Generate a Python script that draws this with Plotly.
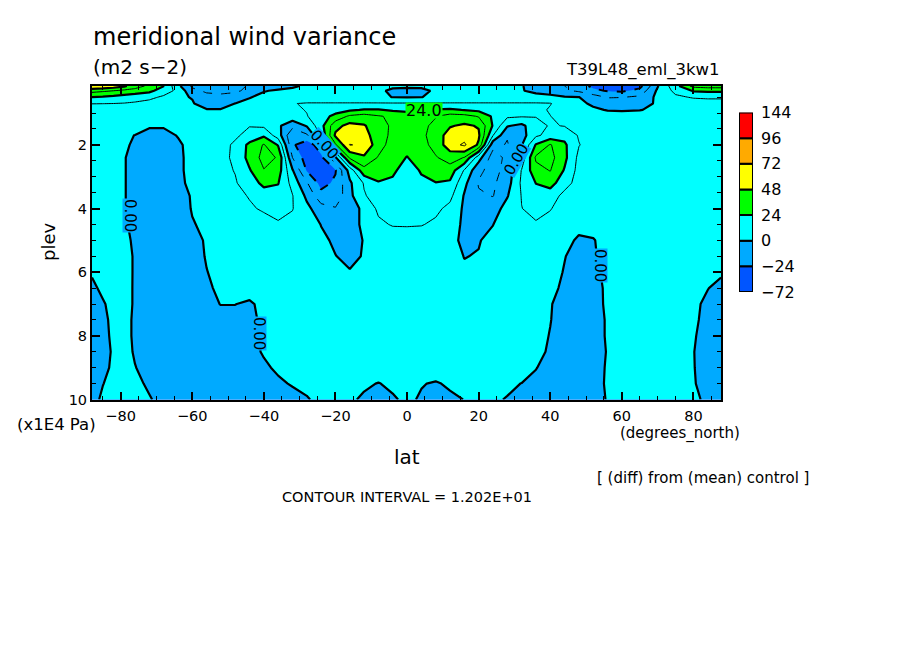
import plotly.graph_objects as go

# grid: latitude columns, pressure rows (x1E4 Pa)
LAT = [-88, -85, -82, -79, -76, -72, -68, -64, -60, -56, -52, -48, -44, -40, -36,
       -32, -28, -24, -20, -16, -12, -8, -4, 0, 4, 8, 12, 16, 20, 24,
       28, 32, 36, 40, 44, 48, 52, 56, 60, 65, 70, 75, 80, 84, 87.7]
PLEV = [0.15, 0.3, 0.5, 0.7, 0.9, 1.1, 1.4, 1.7, 2.0, 2.4, 2.8, 3.2, 3.6, 4.0, 4.5,
        5, 5.5, 6, 6.5, 7, 7.5, 8, 8.5, 9, 9.5, 10]

P015 = [60, 58, 55, 50, 42, 33, 24.5, 3, -14, -18, -18, -15, -11, -6, -3, -1, 1, 1, 1, 1, 1, 1, 2, 2, 2, 1, 1, 1, 1, 1, 0.8, 0.3, -2, -7, -12, -18, -27, -33, -33, -28, -1, 20, 40, 42, 42]
P03 = [40, 38, 36, 33, 31, 27, 18, 9, -9, -14, -15, -14, -9, -0.5, 1, 1.5, 2, 2, 2, 2, 2, 2, -2, -3, -2.5, 1.5, 2, 2, 2, 1.5, 1, 0.5, -2, -5, -10, -14, -21, -25, -26, -20, 2, 15, 25, 26, 26]
P05 = [24, 23, 21, 19, 17, 15, 10, 1, -0.3, -8, -9, -7, -0.4, 2, 3, 3, 3, 3, 3, 3, 3, 2, -0.2, -0.5, -0.2, 2, 3, 3, 3, 3, 3, 3, 3, 3, 1, 0.2, -6, -13, -12.5, -10, 3, 10, 13, 13.5, 13.5]
P07 = [12.5, 12.3, 12, 11.5, 10.5, 8, 5, 3, 0.5, -3, -3.5, 0.1, 2, 5, 7, 11.5, 13, 13, 13, 13, 13, 13, 13, 13, 13, 13, 13, 13, 13, 13, 13, 13, 13, 12.5, 7, 2, -1.5, -4, -4, -2, 0.7, 4, 7, 8, 8]
P09 = [3, 3, 3, 3, 3, 2, 1.5, 1.5, 0.7, 0.4, 0.5, 2, 4, 6, 8, 10, 12.5, 15, 18, 22, 25, 25, 22, 20, 21, 25, 26, 23.5, 21, 18, 16, 15, 15, 11, 7, 4, 1.5, -0.5, -0.7, -0.3, 1.5, 2, 2, 2, 2]
P11 = [2, 2, 2, 2, 2, 2, 2, 2, 2, 3, 4, 5, 6, 7, 7, 7, 11.5, 18, 28, 38, 41, 37, 34, 33, 34, 35.5, 41, 40, 35, 22, 14, 13, 12.5, 12.2, 8, 6, 5, 4, 3, 3, 3, 3, 2, 2, 1]
P14 = [1, 2, 2, 2, 2, 1, 1, 2, 3, 5, 7, 9, 11.5, 10, 2, -8, 1, 20, 44, 52, 49, 41, 34, 32, 34, 38, 47, 50, 47, 23, 1, -3, 8, 13, 11.5, 9, 7, 5, 4, 4, 3, 3, 3, 2, 1]
P17 = [1, 2, 2, 1, -0.1, -3, -3, 0.5, 3, 5, 7, 10, 16, 22, 6, -23, -14, 14, 50, 53, 52, 42, 33, 30, 33, 42, 53, 55, 50, 12.5, -11, -5, 10, 16, 20, 11, 7, 5, 4, 4, 4, 3, 3, 2, 1]
P20 = [1, 2, 2, 1, -1, -5, -6, -1.5, 3, 5, 8, 14, 27, 37, 23, -22, -32, -16, 34, 60.5, 58, 41, 31, 28, 32, 40, 55, 62, 46, -8, -13, -1, 25, 37, 26, 12.5, 7, 5, 4, 4, 4, 4, 3, 2, 1]
P24 = [1, 2, 2, 0.5, -3, -8, -9, -2, 3, 6, 9, 14, 28, 40, 35, -12, -30, -27, -2, 38, 46, 35, 29, 23.5, 30, 35, 41, 35.5, 5, -18, -9, 4, 38, 40, 27, 9, 6, 5, 4, 4, 4, 4, 3, 2, 1]
P28 = [1, 2, 2, 0.5, -3, -8, -9, -2, 3, 6, 9, 12.5, 23, 35.5, 30, 1, -25, -32, -25, 5, 32, 31, 26, 19, 25, 32, 31, 11, -9, -17, -7, 12.5, 32, 36.5, 23, 8, 6, 5, 4, 4, 4, 4, 3, 2, 1]
P32 = [1, 2, 2, 0.5, -3, -8, -9, -3, 3, 6, 9, 11, 18, 27, 24.5, 8, -11, -28, -22, -2, 13, 23, 22, 21, 22, 23.5, 22, 3, -13, -14, -5, 14, 24.2, 29, 16, 8, 6, 5, 4, 4, 4, 4, 3, 2, 1]
P36 = [1, 2, 2, 0.5, -3, -8, -9, -7, 1.5, 5, 8, 10, 12.5, 18, 20, 12.5, -2.5, -20, -21, -3, 11, 17, 20, 21, 20, 17, 15, -1, -10.5, -12.5, -0.8, 12.5, 20, 17, 9, 6, 5, 4, 4, 4, 4, 4, 3, 2, 1]
P40 = [1, 2, 2, 0.5, -3, -7, -8, -8, 1, 4, 7, 9, 11, 13, 15, 12.5, 3, -7, -11, -8, 4, 14, 17, 18, 17, 14.5, 9, -2, -7, -5, 4, 11.8, 15, 12.5, 8, 5, 4, 4, 4, 4, 4, 4, 3, 2, 1]
P45 = [1, 2, 2, 1, -2, -6, -7, -7, -1, 3, 6, 7, 8, 9, 11, 9, 6, -0.3, -6, -7, 3.5, 10, 12.8, 13, 12.6, 10, 5, -2, -6, -0.2, 6, 10, 11, 9, 6, 3, 3, 3, 4, 4, 4, 4, 3, 2, 1]
P50 = [1, 2, 2.5, 1.5, -1, -5, -6, -6, -3, 1, 4, 5, 6, 6, 6, 5, 4, 2, -1.5, -4, 0.5, 5, 6, 6, 6, 6, 4, -3, -0.5, 2.5, 5, 6, 6, 6, 3, -1.5, -0.5, 3, 4, 4, 4, 4, 3, 2, 1]
P55 = [1, 2, 2.5, 2, -0.6, -3, -5, -5, -3, 0.5, 3, 4, 4, 4, 4, 3, 3, 2, 0.2, -2, 0.6, 3, 4, 4, 4, 4, 3, -0.2, 0.4, 3, 4, 4, 4, 4, 0.3, -3, -1, 3, 4, 4, 4, 4, 3, 2, 1]
P60 = [0.5, 2, 2.5, 2, -0.6, -3, -4, -4, -3, -0.2, 2, 3, 3, 3, 3, 3, 3, 2, 1.5, 0.5, 1.5, 3, 3, 3, 3, 3, 2.5, 1, 1.5, 2.5, 3, 3, 3, 3, -0.5, -4, -2, 2, 3, 4, 4, 4, 3, 2, 1]
P65 = [-1, 1, 2, 2.5, -0.8, -3, -4, -4, -3.5, -1.2, 1.5, 2, 2.5, 3, 3, 3, 3, 3, 3, 3, 3, 3, 3, 3, 3, 3, 3, 3, 3, 3, 3, 3, 3, 2, -1.5, -5, -4, 2, 3, 4, 4, 4, 3, 0.2, -2]
P70 = [-2, -0.5, 1.5, 2.5, -0.8, -3, -4, -4, -4, -2, 0.2, 0.1, -0.8, 1.5, 3, 3, 3, 3, 3, 3, 3, 3, 3, 3, 3, 3, 3, 3, 3, 3, 3, 3, 3, 0.5, -3, -6, -4.5, 2, 3, 4, 4, 3, 1.5, -1.5, -3]
P75 = [-3, -1, 1, 2, -1, -3, -5, -5, -5, -4, -3, -2, -1.2, 1, 3, 3, 3, 3, 3, 3, 3, 3, 3, 3, 3, 3, 3, 3, 3, 3, 3, 3, 3, 0.3, -4, -6, -4, 1, 3, 4, 4, 3, 1.2, -2, -3.5]
P80 = [-3.5, -1.5, 1, 2, -1, -4, -5, -6, -6, -6, -5, -4, -2, 1, 3, 4, 4, 4, 4, 4, 4, 4, 4, 4, 4, 4, 4, 4, 4, 4, 4, 4, 3, -0.4, -4, -6, -4, 1, 3, 4, 4, 3, 0.6, -2.5, -4]
P85 = [-4, -2, 0.7, 2, -0.6, -4, -5, -6, -6, -6, -5, -4, -2, 0.6, 2, 3, 4, 4, 4, 4, 4, 4, 4, 4, 4, 4, 4, 4, 4, 4, 4, 4, 1, -0.5, -4, -6, -4, 0.5, 3, 4, 4, 3, 0.2, -3, -4]
P90 = [-3, -1.5, 1, 3, 0.2, -2, -4, -5, -5, -5, -5, -4, -3, -1, 1, 2, 3, 3, 3, 3, 3, 3, 3, 3, 3, 3, 3, 3, 3, 3, 3, 3, 0.3, -3, -5, -6, -4, 1, 3, 4, 4, 3, 0.3, -3, -4]
P95 = [-2, -0.2, 2, 3, 1.5, -1, -3, -4, -4, -4, -4, -4, -3.5, -2.5, -1, 0.5, 1, 2, 2, 1.5, 0.8, -0.2, 1, 2, 0.3, -0.5, 0.8, 2, 2, 1.5, 1, -0.1, -2, -4, -5, -5, -3, 1, 2, 3, 3, 2, 0.4, -2, -3]
P100 = [-2, 1, 2, 3, 3, 0.5, -2, -3, -3, -3, -3, -3, -3, -3, -2, -2, -0.3, 1, 1.5, 0.8, -0.8, -1.5, -0.6, 1, -0.6, -1.5, -1, 0.1, 1, 0.7, -0.3, -2, -3, -3, -4, -4, -3, 0.5, 2, 3, 3, 2, 1, -1, -2]

Z = [P015, P03, P05, P07, P09, P11, P14, P17, P20, P24, P28, P32, P36, P40, P45,
     P50, P55, P60, P65, P70, P75, P80, P85, P90, P95, P100]

LEVEL_LABELS = ["\u221272", "\u221224", "0", "24", "48", "72", "96", "144"]
COLORS = ["#0055ff", "#00aaff", "#00ffff", "#00ff00", "#ffff00", "#ffaa00", "#ff0000"]
FILL_EDGES = [-36, -24, 0, 24, 48, 72, 96, 144]   # fill colour changes here

W, H = 888, 638      # page body keeps an 8px margin
FONT = "DejaVu Sans"


def px(x):
    return (x - 8) / W


def py(y):
    return 1 - (y - 8) / H


# stepped colorscale; plotly stretches it over contours.start..end when coloring="fill"
lo, hi = FILL_EDGES[0], FILL_EDGES[-1]
scale = []
for i, c in enumerate(COLORS):
    scale.append([(FILL_EDGES[i] - lo) / (hi - lo), c])
    scale.append([(FILL_EDGES[i + 1] - lo) / (hi - lo), c])

fig = go.Figure()

fig.add_contour(x=LAT, y=PLEV, z=Z, colorscale=scale, showscale=False, hoverinfo="skip",
                contours=dict(coloring="fill", start=lo, end=hi, size=12),
                line=dict(width=0, smoothing=0))


def add_lines(start, end, step, width, dash="solid"):
    fig.add_contour(x=LAT, y=PLEV, z=Z, showscale=False, hoverinfo="skip",
                    contours=dict(coloring="none", start=start, end=end, size=step),
                    line=dict(color="black", width=width, dash=dash, smoothing=0))


add_lines(0, 144, 24, 2.2)           # thick at the colour levels
add_lines(12, 132, 24, 1)            # thin in between
add_lines(-24, -24, 24, 2, "dash")   # negative ones are dashed
add_lines(-12, -12, 24, 1, "dash")

# legend boxes, drawn as stacked bars on their own axes
fig.add_bar(x=[0] * len(COLORS), y=[1] * len(COLORS), base=list(range(len(COLORS))),
            width=1, marker=dict(color=COLORS, line=dict(color="black", width=2)),
            xaxis="x2", yaxis="y2", hoverinfo="skip", showlegend=False)

tick_font = dict(family=FONT, size=14.5, color="black")
axis_style = dict(showgrid=False, zeroline=False, showline=True, linecolor="black",
                  linewidth=2, mirror="ticks", ticks="inside", tickcolor="black",
                  tickwidth=2, ticklen=8, tickfont=tick_font, automargin=False)
minor_style = dict(ticks="inside", ticklen=4, tickcolor="black", tickwidth=1)

fig.update_layout(
    width=W, height=H, autosize=False,
    margin=dict(l=0, r=0, t=0, b=0),
    paper_bgcolor="white", plot_bgcolor="white", showlegend=False,
    xaxis=dict(domain=[px(92), px(721)], range=[-88, 87.7], tickvals=[-80, -60, -40, -20, 0, 20, 40, 60, 80],
               ticklabelstandoff=2, minor=dict(dtick=5, tick0=0, **minor_style), **axis_style),
    yaxis=dict(domain=[py(399.5), py(86)], range=[10, 0.15], tickvals=[2, 4, 6, 8, 10],
               minor=dict(dtick=0.5, tick0=0, **minor_style), **axis_style),
    xaxis2=dict(domain=[px(739), px(753)], range=[-0.5, 0.5], visible=False, anchor="y2", automargin=False),
    yaxis2=dict(domain=[py(292), py(112.5)], range=[0, 7], anchor="x2", side="right",
                tickvals=list(range(8)), ticktext=LEVEL_LABELS, ticks="", showline=False,
                showgrid=False, zeroline=False, automargin=False, ticklabelstandoff=7,
                tickfont=dict(family=FONT, size=16, color="black")),
)


def text(x, y, s, size=15, xanchor="left", angle=0, bg=None, box=None):
    fig.add_annotation(x=px(x), y=py(y), xref="paper", yref="paper", text=s, showarrow=False,
                       xanchor=xanchor, yanchor="middle", textangle=angle, bgcolor=bg,
                       borderpad=0, height=box, font=dict(family=FONT, size=size, color="black"))


text(92, 37, "meridional wind variance", 24)
text(92, 67, "(m2 s\u22122)", 20)
text(721, 70, "T39L48_eml_3kw1", 16.5, "right")
text(48, 242, "plev", 18, "center", -90)
text(16, 424, "(x1E4 Pa)", 16.5)
text(619, 433, "(degrees_north)", 15)
text(407, 457, "lat", 20, "center")
text(596, 478, "[ (diff) from (mean) control ]", 15)
text(281, 497, "CONTOUR INTERVAL = 1.202E+01", 14.5)

# contour labels, boxes just tall enough to break the line under them
text(424, 110, "24.0", 16, "center", bg="#00ff00", box=15)
text(130, 215, "0.00", 15, "center", 90, "#00aaff", 14)
text(259, 333, "0.00", 15, "center", 90, "#00aaff", 14)
text(600, 265, "0.00", 15, "center", 90, "#00aaff", 14)
text(324, 144, "0.00", 15, "center", 48, "#00aaff", 14)
text(516, 160, "0.00", 15, "center", -60, "#00aaff", 14)

fig.write_html("out.html")
